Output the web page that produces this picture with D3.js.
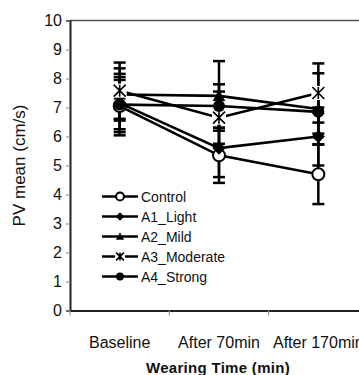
<!DOCTYPE html>
<html><head><meta charset="utf-8">
<script src="https://cdn.jsdelivr.net/npm/d3@7"></script>
<style>
html,body{margin:0;padding:0;background:#fff;}
svg{display:block;font-family:"Liberation Sans",Arial,sans-serif;}
</style></head>
<body>
<svg id="chart" width="359" height="375"></svg>
<script>
const categories = ["Baseline", "After 70min", "After 170min"];
const seriesNames = ["Control", "A1_Light", "A2_Mild", "A3_Moderate", "A4_Strong"];
const markerTypes = ["openCircle", "diamond", "triangle", "x", "circle"];
const controlMean = [7.05, 5.35, 4.70];
const a1Mean = [7.15, 5.60, 6.00];
const a2Mean = [7.45, 7.40, 6.95];
const a3Mean = [7.58, 6.65, 7.50];
const a4Mean = [7.10, 7.05, 6.85];
const controlSD = [0.90, 0.95, 1.03];
const a1SD = [0.90, 1.00, 1.00];
const a2SD = [0.90, 1.20, 1.23];
const a3SD = [0.97, 0.90, 1.02];
const a4SD = [1.06, 0.75, 0.75];
const yTicks = [0,1,2,3,4,5,6,7,8,9,10];
const yTitle = "PV mean (cm/s)";
const xTitle = "Wearing Time (min)";

const means = [controlMean, a1Mean, a2Mean, a3Mean, a4Mean];
const sds = [controlSD, a1SD, a2SD, a3SD, a4SD];
const series = seriesNames.map((n,i)=>({name:n, marker:markerTypes[i],
  values: categories.map((c,j)=>({cat:c, mean:means[i][j], sd:sds[i][j]}))}));

const svg = d3.select("#chart");
const x = d3.scaleBand().domain(categories).range([70, 368]).padding(0);
const cx = c => x(c) + x.bandwidth()/2;
const y = d3.scaleLinear().domain([0,10]).range([310.5, 20.5]);

// plot border (top & left/bottom axes)
svg.append("line").attr("x1",70).attr("x2",359).attr("y1",y(10)).attr("y2",y(10))
  .attr("stroke","#555").attr("stroke-width",1.5);

// y axis
const yAxis = svg.append("g").attr("transform","translate(70,0)")
  .call(d3.axisLeft(y).tickValues(yTicks).tickSize(4).tickPadding(5).tickFormat(d3.format("d")));
yAxis.select(".domain").attr("stroke","#222").attr("stroke-width",2);
yAxis.selectAll(".tick line").attr("stroke","#999").attr("stroke-width",1.2);
yAxis.selectAll(".tick text").attr("font-size",16).attr("fill","#111")
  .attr("font-family","'Liberation Sans',Arial,sans-serif").attr("x",-8);

// x axis
const xAxis = svg.append("g").attr("transform",`translate(0,${y(0)})`)
  .call(d3.axisBottom(x).tickSize(0).tickPadding(26));
xAxis.select(".domain").attr("stroke","#222").attr("stroke-width",2);
xAxis.selectAll(".tick text").attr("font-size",16).attr("fill","#111")
  .attr("font-family","'Liberation Sans',Arial,sans-serif");
// category boundary ticks
svg.append("g").selectAll("line").data(categories).join("line")
  .attr("x1",d=>x(d)).attr("x2",d=>x(d)).attr("y1",y(0)).attr("y2",y(0)+5)
  .attr("stroke","#999").attr("stroke-width",1.2);

// titles
svg.append("text").attr("transform",`translate(25,${(y(0)+y(10))/2}) rotate(-90)`)
  .attr("text-anchor","middle").attr("font-size",17).attr("fill","#111").text(yTitle);
svg.append("text").attr("x",218).attr("y",373).attr("text-anchor","middle")
  .attr("font-size",15).attr("font-weight","bold").attr("letter-spacing",0.3).attr("fill","#111").text(xTitle);

const g = svg.append("g");
// error bars
series.forEach(s=>{
  s.values.forEach(v=>{
    const px = cx(v.cat);
    g.append("line").attr("x1",px).attr("x2",px).attr("y1",y(v.mean-v.sd)).attr("y2",y(v.mean+v.sd))
      .attr("stroke","#000").attr("stroke-width",2.5);
    [v.mean-v.sd, v.mean+v.sd].forEach(e=>{
      g.append("line").attr("x1",px-6).attr("x2",px+6).attr("y1",y(e)).attr("y2",y(e))
        .attr("stroke","#000").attr("stroke-width",2.5);
    });
  });
});
// lines
const line = d3.line().x(d=>cx(d.cat)).y(d=>y(d.mean));
series.forEach(s=>{
  g.append("path").attr("d",line(s.values)).attr("fill","none")
    .attr("stroke","#000").attr("stroke-width",2.6);
});

function drawMarker(sel, type, px, py, k){
  const r = 6*k;
  if(type==="openCircle"){
    sel.append("circle").attr("cx",px).attr("cy",py).attr("r",r).attr("fill","#fff").attr("stroke","#000").attr("stroke-width",2);
  } else if(type==="circle"){
    sel.append("circle").attr("cx",px).attr("cy",py).attr("r",r).attr("fill","#000");
  } else if(type==="diamond"){
    const d=r*1.1;
    sel.append("path").attr("d",`M${px},${py-d}L${px+d},${py}L${px},${py+d}L${px-d},${py}Z`).attr("fill","#000");
  } else if(type==="triangle"){
    const d=r*1.05;
    sel.append("path").attr("d",`M${px},${py-d}L${px+d},${py+d*0.8}L${px-d},${py+d*0.8}Z`).attr("fill","#000");
  } else if(type==="x"){
    const d=r;
    sel.append("rect").attr("x",px-d-1).attr("y",py-d-1).attr("width",2*d+2).attr("height",2*d+2).attr("fill","#fff");
    sel.append("path").attr("d",`M${px-d},${py-d}L${px+d},${py+d}M${px+d},${py-d}L${px-d},${py+d}M${px},${py-d}L${px},${py+d}`)
      .attr("stroke","#000").attr("stroke-width",1.6).attr("fill","none");
  }
}
// markers
series.forEach(s=>{
  s.values.forEach(v=>drawMarker(g, s.marker, cx(v.cat), y(v.mean), 1));
});

// legend
const leg = svg.append("g");
series.forEach((s,i)=>{
  const ly = 196.5 + i*20;
  leg.append("line").attr("x1",102).attr("x2",138).attr("y1",ly).attr("y2",ly)
    .attr("stroke","#000").attr("stroke-width",2.6);
  drawMarker(leg, s.marker, 120, ly, 0.65);
  leg.append("text").attr("x",141).attr("y",ly+5).attr("font-size",14).attr("fill","#111").text(s.name);
});
</script>
</body></html>
